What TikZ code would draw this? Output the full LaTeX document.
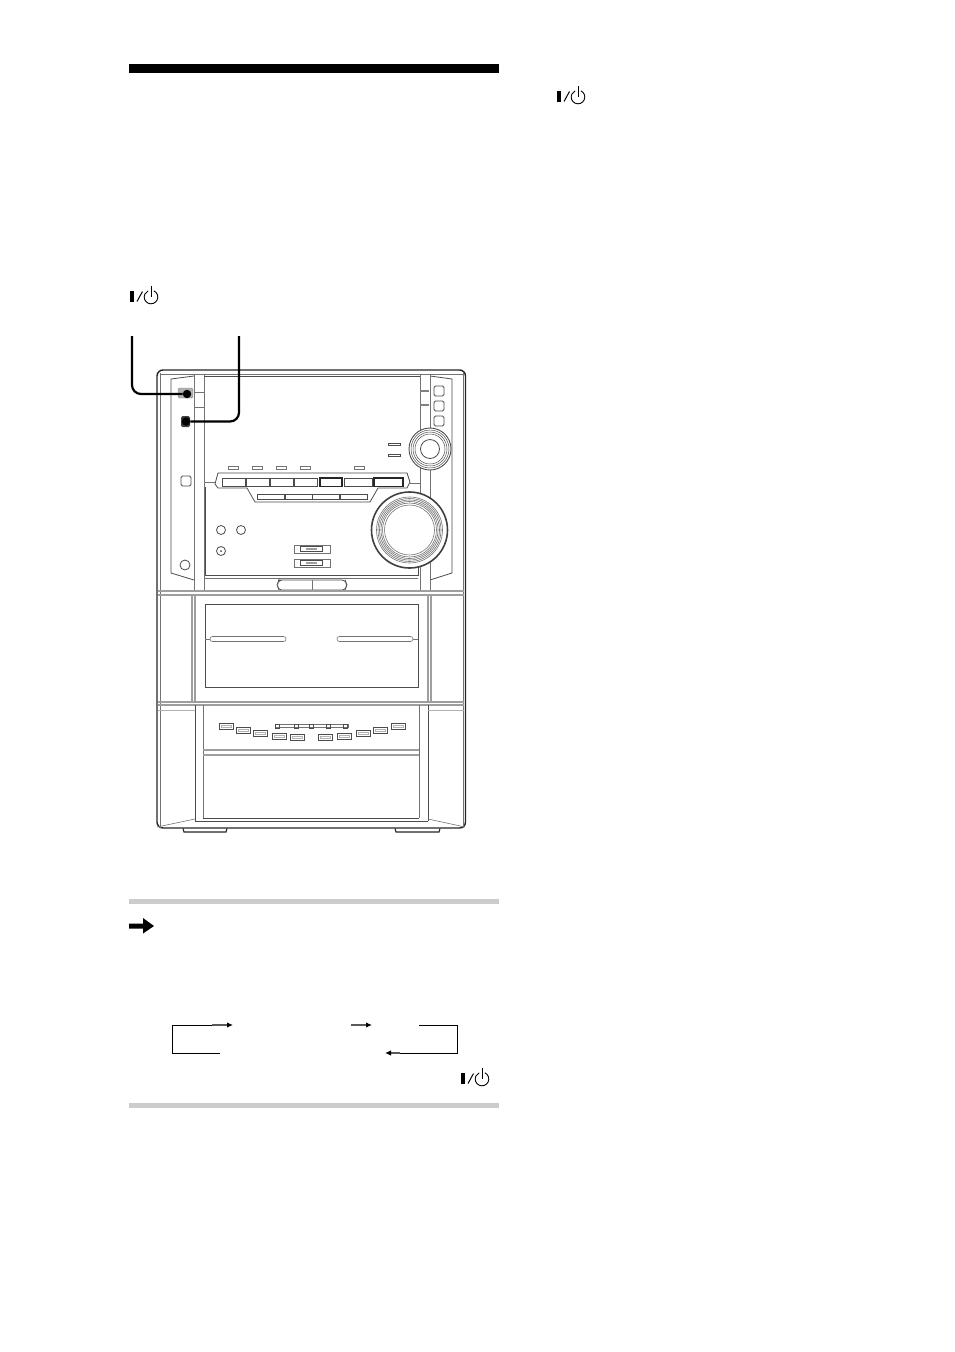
\documentclass[tikz,border=0pt]{standalone}
\usepackage{tikz}
\usetikzlibrary{arrows.meta}

\tikzset{
  devline/.style={draw=black!70, line width=0.8pt},
  thinline/.style={draw=black!55, line width=0.6pt},
  darkline/.style={draw=black!85, line width=1.1pt},
  bandline/.style={draw=black!38, line width=1.1pt},
  callout/.style={draw=black, line width=2.2pt, rounded corners=9pt},
  calldot/.style={circle, fill=black, inner sep=0pt, minimum size=8.5pt},
  flowline/.style={draw=black, line width=1pt},
  flowtip/.style={draw=black!65, line width=1.2pt, -{Latex[black, length=6pt, width=5.5pt]}},
  rulebar/.style={fill=black!20, draw=none},
  powersym/.pic={
    \fill[black] (0,0) rectangle (3.6,10.5);
    \draw[black, line width=1pt] (7,10.5) -- (12.5,0.5);
    \draw[black, line width=0.9pt] (21,6) ++(-65:6.8) arc (-65:245:6.8);
    \draw[black, line width=1pt] (21,-5) -- (21,6);
  }
}

\begin{document}
\begin{tikzpicture}[x=1pt, y=-1pt]
\useasboundingbox[fill=white] (0,0) rectangle (954,1352);

% Heading bar and rules
\fill[black] (129,64) rectangle (499,73);
\path[rulebar] (129,899) rectangle (499,904);
\path[rulebar] (129,1103) rectangle (499,1108);

% Power symbols
\pic at (130,291) {powersym};
\pic at (557,91) {powersym};
\pic at (461,1073) {powersym};

% Body outline
\draw[darkline, line width=1.4pt, rounded corners=6pt] (157,828) -- (157,370) -- (465.5,370) -- (465.5,828) -- cycle;
\draw[thinline] (160,373) -- (160,828);
\draw[thinline] (463,373) -- (463,828);
\draw[thinline] (160,374) -- (463,374);

% Side panels
\draw[devline] (194,376) -- (171,379) -- (171,573) -- (194,580);
\draw[devline] (430,376) -- (452,379) -- (452,573) -- (430,580);
\foreach \x in {194,204,420,430}
    \draw[thinline] (\x,374) -- (\x,592);
\foreach \y in {392,407}
    \draw[thinline] (195,\y) -- (204,\y);
\foreach \y in {391,405}
    \draw[darkline, draw=black!50] (420,\y) -- (429,\y);
\draw[devline] (204,376) -- (420,376);

% Power button and timer button
\draw[fill=black!30, draw=black!50, rounded corners=1.5pt] (178,388) rectangle (193,398);
\fill[black!75, rounded corners=1.5pt] (181,416) rectangle (190,427);
\draw[devline, rounded corners=1.5pt] (181,476) rectangle (191,486);
\draw[devline] (185,565) circle (5);
\foreach \y in {391,406,421}
    \draw[devline, rounded corners=1.5pt] (434,\y-5) rectangle (444,\y+5);

% Indicators above the buttons
\foreach \x in {233,257,281,305,359}
    \draw[thinline] (\x-5,466.5) rectangle (\x+5,469.5);
\foreach \y in {444,455}
    \draw[devline] (388,\y-1) rectangle (400,\y+1);

% Button row
\draw[devline] (247,488) -- (218,488) -- (215,484) -- (218,473) -- (407,473) -- (410,482) -- (407,488) -- (378,488) -- (370,502) -- (255,502) -- cycle;
\foreach \a/\b in {222/245,246/269,270/293,294/317,344/372}
    \draw[devline] (\a,478) rectangle (\b,486.5);
\foreach \a/\b in {320/342,374/403}
    \draw[darkline] (\a,478) rectangle (\b,486.5);
\foreach \a/\b in {257/284,285/312,312/339,340/367}
    \draw[devline] (\a,494) rectangle (\b,499.5);

% Lower panel
\draw[devline] (205,487) -- (205,575) -- (418,575) -- (418,560);
\draw[thinline] (205,578) -- (418,578);
\draw[thinline] (204,482) -- (215,482);
\draw[thinline] (410,483) -- (420,483);
\foreach \x in {221,241}
    \draw[devline] (\x,530) circle (4.5);
\draw[devline] (221,551) circle (4.5);
\fill[black!70] (221,551) circle (1);

% Tape slots
\foreach \y in {545,559} {
    \draw[thinline] (294,\y) rectangle (330,\y+8);
    \draw[devline] (300,\y+1.5) rectangle (322,\y+6.5);
    \draw[bandline] (306,\y+4) -- (317,\y+4);
}

% Small knob
\foreach \r/\w in {21/0.9,19/0.5,17/0.5,15/0.5}
    \draw[black!70, line width=\w pt, fill=white] (430,449) circle (\r);
\draw[devline] (430,449) circle (9.5);

% Big knob
\draw[black!75, line width=1.6pt, fill=white] (409.5,530) circle (38);
\foreach \r in {33,31.5,30,28.5,27,25}
    \draw[thinline] (409.5,530) circle (\r);

% Bottom capsule
\draw[devline, rounded corners=3pt] (281,580) -- (345,580) -- (347,585) -- (345,590) -- (279,590) -- (277,585) -- (279,580) -- cycle;
\draw[thinline] (312,580) -- (312,590);

% Deck separation
\foreach \y in {591,595,702,705}
    \draw[bandline] (158,\y) -- (464,\y);
\foreach \x in {192,195,428,431}
    \draw[bandline] (\x,595) -- (\x,702);

% CD lid
\draw[devline] (205,604) rectangle (418,687);
\draw[thinline, rounded corners=2.5pt] (210,636.5) rectangle (286,641.5);
\draw[thinline, rounded corners=2.5pt] (337,636.5) rectangle (413,641.5);
\draw[thinline] (205,639) -- (210,639);
\draw[thinline] (413,639) -- (418,639);

% Tape deck
\foreach \x in {195,428}
    \draw[devline] (\x,705) -- (\x,821);
\draw[devline] (195,821) -- (428,821);
\foreach \x in {203,419}
    \draw[thinline] (\x,705) -- (\x,818);
\draw[devline] (203,818) -- (419,818);
\draw[bandline] (203,750) -- (419,750);
\draw[bandline] (203,755) -- (419,755);
\draw[thinline, draw=black!30] (158,710) -- (195,710);
\draw[thinline, draw=black!30] (428,710) -- (464,710);
\draw[thinline] (157,827) -- (195,819);
\draw[thinline] (465,827) -- (428,819);

% Deck buttons
\foreach \x/\y in {226/726,243/730,260/733,279/736,297/737,325/737,344/736,363/733,380/730,398/726} {
    \draw[devline] (\x-7,\y-3) rectangle (\x+7,\y+3);
    \draw[thinline, draw=black!30] (\x-5,\y-1) rectangle (\x+5,\y+1);
}
\draw[thinline] (275,724.5) rectangle (348,727.5);
\foreach \x in {277,296,311,328,345}
    \draw[devline] (\x-2,724) rectangle (\x+2,728);

% Feet
\foreach \a/\b in {183/227,395/440}
    \draw[darkline] (\a,828.5) -- (\a+1,832) -- (\b-1,832) -- (\b,828.5);

% Callouts
\node[calldot] (powerdot) at (187,394) {};
\node[calldot] (timerdot) at (186,421.5) {};
\coordinate (powerend) at (132,336);
\coordinate (timerend) at (239,336);
\draw[callout] (powerend) |- (powerdot);
\draw[callout] (timerend) |- (timerdot);

% Note arrow
\fill[black] (129,923.5) -- (143,923.5) -- (143,918) -- (154,926) -- (143,933.5) -- (143,928.5) -- (129,928.5) -- cycle;

% Display order loop
\coordinate (loopa) at (212,1025);
\coordinate (loopb) at (233,1025);
\coordinate (loopc) at (351,1025);
\coordinate (loopd) at (372,1025);
\coordinate (loope) at (419,1025);
\coordinate (loopf) at (400,1053);
\coordinate (loopg) at (385,1053);
\coordinate (looph) at (220,1053);
\draw[flowline] (loopa) -- (172.5,1025) -- (172.5,1053) -- (looph);
\draw[flowline] (loope) -- (457,1025) -- (457,1053) -- (loopf);
\draw[flowtip] (loopa) -- (loopb);
\draw[flowtip] (loopc) -- (loopd);
\draw[flowtip] (loopf) -- (loopg);

\end{tikzpicture}
\end{document}
